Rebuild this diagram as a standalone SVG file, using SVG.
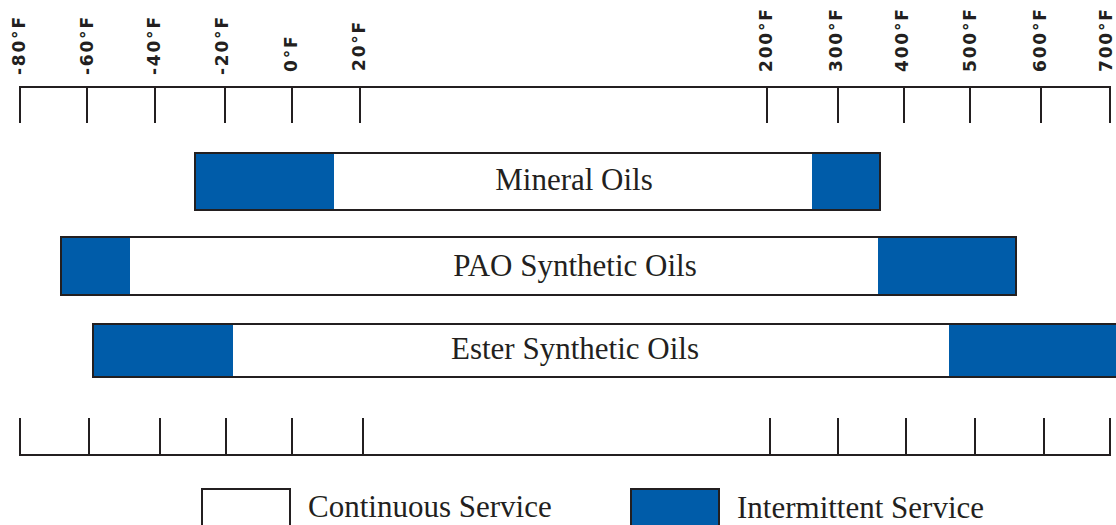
<svg xmlns="http://www.w3.org/2000/svg" width="1116" height="525" viewBox="0 0 1116 525">
<style>
.ln{stroke:#231f20;stroke-width:2;fill:none}
.blue{fill:#005ca9}
.frame{fill:none;stroke:#231f20;stroke-width:2}
.tick{font-family:"DejaVu Sans",sans-serif;font-weight:bold;font-size:17px;letter-spacing:1.8px;fill:#231f20}
.lbl{font-family:"Liberation Serif",serif;font-size:31px;fill:#231f20}
</style>
<rect width="1116" height="525" fill="#fff"/>
<g id="axis-top">
<path class="ln" d="M20,123V87H1110V123M87,87V123M155,87V123M225,87V123M292,87V123M360,87V123M767,87V123M838,87V123M904,87V123M970,87V123M1041,87V123"/>
<text class="tick" transform="translate(25,75) rotate(-90)">-80°F</text>
<text class="tick" transform="translate(93,75) rotate(-90)">-60°F</text>
<text class="tick" transform="translate(160,75) rotate(-90)">-40°F</text>
<text class="tick" transform="translate(228,75) rotate(-90)">-20°F</text>
<text class="tick" transform="translate(297,72) rotate(-90)">0°F</text>
<text class="tick" transform="translate(365,71) rotate(-90)">20°F</text>
<text class="tick" transform="translate(772,72) rotate(-90)">200°F</text>
<text class="tick" transform="translate(842,72) rotate(-90)">300°F</text>
<text class="tick" transform="translate(908,72) rotate(-90)">400°F</text>
<text class="tick" transform="translate(976,72) rotate(-90)">500°F</text>
<text class="tick" transform="translate(1046,72) rotate(-90)">600°F</text>
<text class="tick" transform="translate(1112,72) rotate(-90)">700°F</text>
</g>
<g id="bar-mineral">
<rect class="blue" x="195" y="153" width="139" height="57"/>
<rect class="blue" x="812" y="153" width="68" height="57"/>
<rect class="frame" x="195" y="153" width="685" height="57"/>
<text class="lbl" x="574" y="190" text-anchor="middle">Mineral Oils</text>
</g>
<g id="bar-pao">
<rect class="blue" x="61" y="237" width="69" height="58"/>
<rect class="blue" x="878" y="237" width="138" height="58"/>
<rect class="frame" x="61" y="237" width="955" height="58"/>
<text class="lbl" x="575" y="276" text-anchor="middle">PAO Synthetic Oils</text>
</g>
<g id="bar-ester">
<rect class="blue" x="93" y="324" width="140" height="53"/>
<rect class="blue" x="949" y="324" width="170" height="53"/>
<rect class="frame" x="93" y="324" width="1030" height="53"/>
<text class="lbl" x="575" y="359" text-anchor="middle">Ester Synthetic Oils</text>
</g>
<g id="axis-bottom">
<path class="ln" d="M20,418V455H1110V418M89,418V455M160,418V455M226,418V455M292,418V455M363,418V455M770,418V455M838,418V455M906,418V455M975,418V455M1044,418V455"/>
</g>
<g id="legend-continuous">
<rect x="202" y="489" width="88" height="45" fill="#fff" stroke="#231f20" stroke-width="2"/>
<text class="lbl" x="308" y="517">Continuous Service</text>
</g>
<g id="legend-intermittent">
<rect class="blue" x="631" y="489" width="88" height="45" stroke="#231f20" stroke-width="2"/>
<text class="lbl" x="737" y="518">Intermittent Service</text>
</g>
</svg>
